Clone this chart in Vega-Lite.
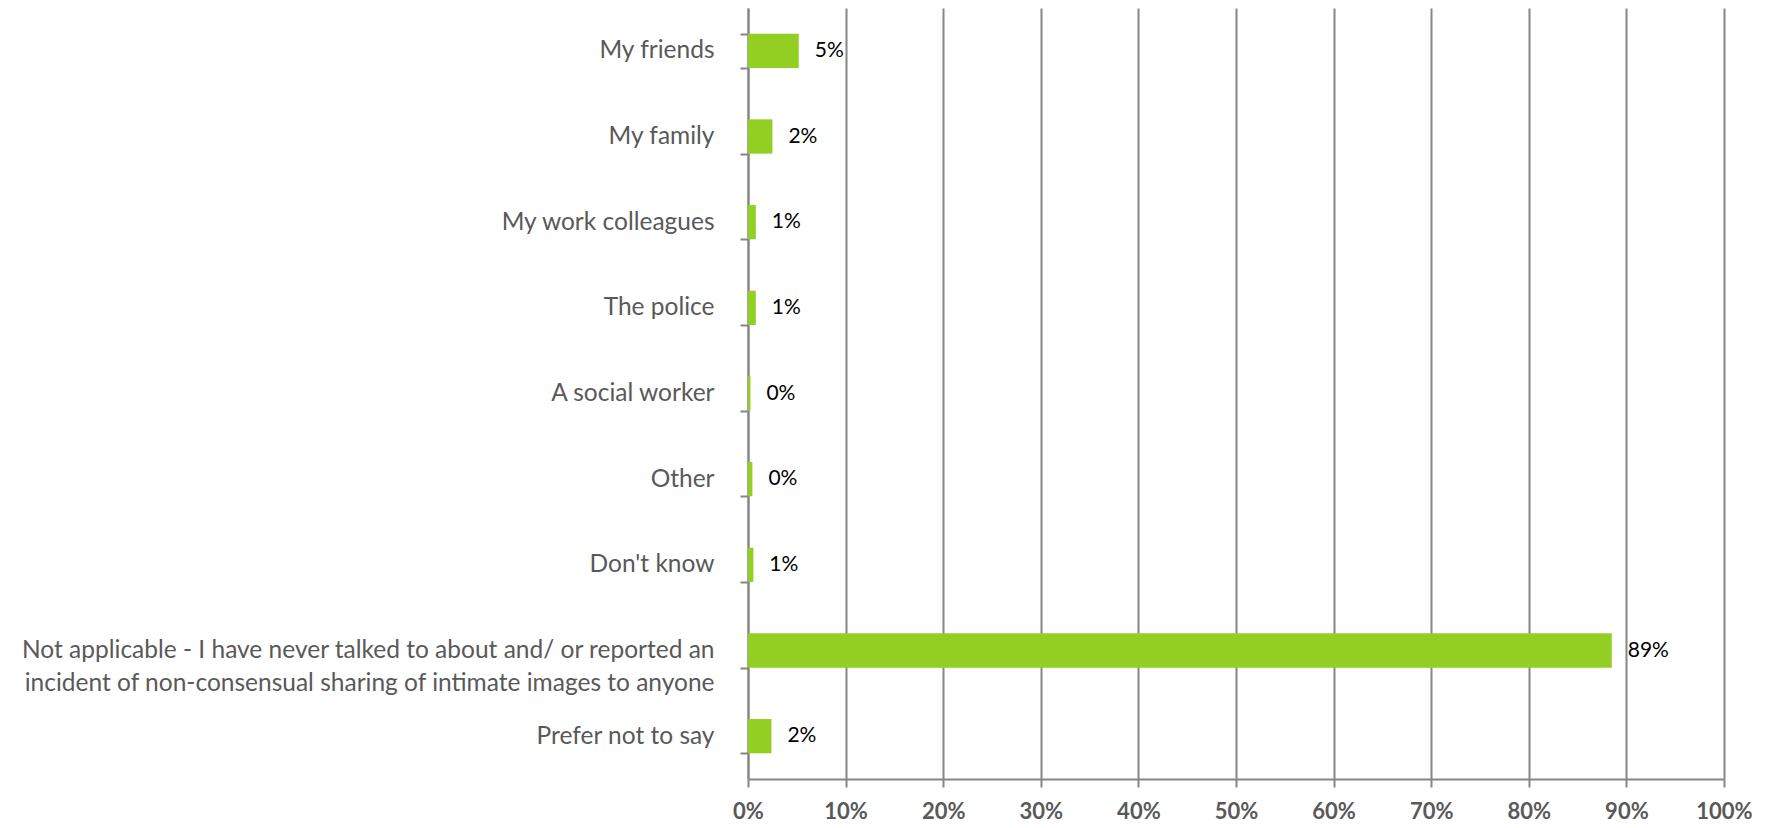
{
  "$schema": "https://vega.github.io/schema/vega-lite/v6.json",
  "autosize": "none",
  "width": 976,
  "height": 771,
  "padding": {"left": 748, "top": 8, "right": 47, "bottom": 49},
  "background": "white",
  "config": {"view": {"stroke": null}, "font": "Lato"},
  "data": {
    "values": [
      {"answer": "My friends", "share": 5.2, "label": "5%"},
      {"answer": "My family", "share": 2.5, "label": "2%"},
      {"answer": "My work colleagues", "share": 0.8, "label": "1%"},
      {"answer": "The police", "share": 0.8, "label": "1%"},
      {"answer": "A social worker", "share": 0.25, "label": "0%"},
      {"answer": "Other", "share": 0.45, "label": "0%"},
      {"answer": "Don't know", "share": 0.55, "label": "1%"},
      {"answer": "Not applicable - I have never talked to about and/ or reported an|incident of non-consensual sharing of intimate images to anyone", "share": 88.5, "label": "89%"},
      {"answer": "Prefer not to say", "share": 2.4, "label": "2%"}
    ]
  },
  "encoding": {
    "y": {
      "field": "answer",
      "type": "nominal",
      "sort": null,
      "scale": {"paddingInner": 0.6, "paddingOuter": 0.3},
      "axis": {
        "title": null,
        "labelExpr": "split(datum.label, '|')",
        "labelFont": "Lato",
        "labelFontSize": 24.5,
        "labelColor": "#595959",
        "labelPadding": 26,
        "labelLimit": 800,
        "labelLineHeight": 33,
        "domainColor": "#868686",
        "domainWidth": 2,
        "tickColor": "#868686",
        "tickWidth": 2,
        "tickSize": 8,
        "tickBand": "extent",
        "grid": false
      }
    }
  },
  "layer": [
    {
      "mark": {"type": "bar", "color": "#92cf22"},
      "encoding": {
        "x": {
          "field": "share",
          "type": "quantitative",
          "scale": {"domain": [0, 100], "nice": false},
          "axis": {
            "title": null,
            "values": [0, 10, 20, 30, 40, 50, 60, 70, 80, 90, 100],
            "labelExpr": "datum.value + '%'",
            "labelFont": "Lato",
            "labelFontSize": 22,
            "labelFontWeight": "bold",
            "labelColor": "#595959",
            "labelPadding": 14,
            "labelFlush": false,
            "labelOverlap": false,
            "domainColor": "#868686",
            "domainWidth": 2,
            "tickColor": "#868686",
            "tickWidth": 2,
            "tickSize": 8,
            "grid": true,
            "gridColor": "#868686",
            "gridWidth": 2
          }
        }
      }
    },
    {
      "mark": {"type": "text", "align": "left", "dx": 16, "font": "Lato", "fontSize": 21, "color": "#000000"},
      "encoding": {
        "x": {"field": "share", "type": "quantitative"},
        "text": {"field": "label"}
      }
    }
  ]
}
